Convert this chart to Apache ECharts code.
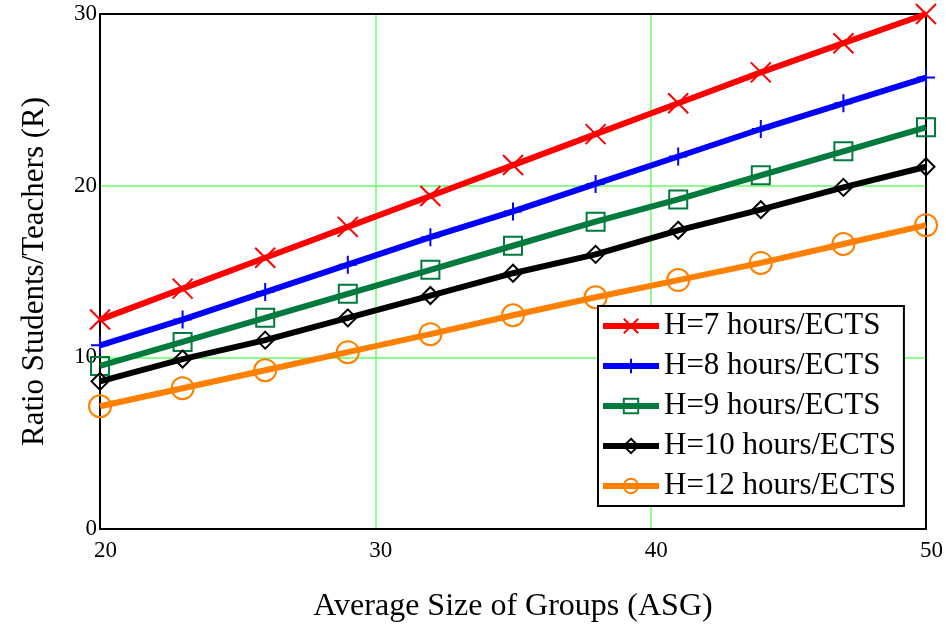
<!DOCTYPE html>
<html>
<head>
<meta charset="utf-8">
<script src="https://cdn.jsdelivr.net/npm/echarts@6/dist/echarts.min.js"></script>
<style>
  html, body { margin: 0; padding: 0; background: #fff; }
  #chart { width: 946px; height: 628px; }
</style>
</head>
<body>
<div id="chart"></div>
<script>
// group sizes where the markers sit
const asg = [20, 23, 26, 29, 32, 35, 38, 41, 44, 47, 50];

// ratio R, one list per H
const h7 = [12.2, 14.0, 15.8, 17.6, 19.4, 21.2, 23.0, 24.8, 26.6, 28.3, 30.0];
const h8 = [10.7, 12.2, 13.8, 15.4, 17.0, 18.5, 20.1, 21.7, 23.3, 24.8, 26.3];
const h9 = [9.5, 10.9, 12.3, 13.7, 15.1, 16.5, 17.9, 19.2, 20.6, 22.0, 23.4];
const h10 = [8.6, 9.9, 11.0, 12.3, 13.6, 14.9, 16.0, 17.4, 18.6, 19.9, 21.1];
const h12 = [7.15, 8.2, 9.25, 10.3, 11.35, 12.45, 13.5, 14.5, 15.5, 16.6, 17.7];

const serif = '"Liberation Serif", "DejaVu Serif", serif';

function pairs(ys) {
  return asg.map(function (x, i) { return [x, ys[i]]; });
}

function makeSeries(name, ys, color, symbol, size) {
  return {
    name: name,
    type: 'line',
    data: pairs(ys),
    symbol: symbol,
    symbolSize: size,
    showAllSymbol: true,
    lineStyle: { color: color, width: 6 },
    itemStyle: { color: 'rgba(0,0,0,0)', borderColor: color, borderWidth: 2 },
    emphasis: { disabled: true },
    z: 3
  };
}

// black frame on all four sides
const frameLine = { show: true, onZero: false, lineStyle: { color: '#000', width: 2 } };
// green grid only inside, the outer ones are the frame
const gridGreen = { show: true, lineStyle: { color: ['transparent', '#66ff66', '#66ff66', 'transparent'], width: 1.5 } };

const chart = echarts.init(document.getElementById('chart'));

chart.setOption({
  animation: false,
  backgroundColor: '#fff',
  grid: { left: 100, right: 18, top: 14, bottom: 98 },
  legend: {
    orient: 'vertical',
    left: 598,
    top: 306,
    padding: [4, 8, 4, 2],
    itemWidth: 56,
    itemHeight: 18,
    itemGap: 8,
    backgroundColor: '#fff',
    borderColor: '#000',
    borderWidth: 2,
    lineStyle: { width: 6 },
    textStyle: { fontFamily: serif, fontSize: 31, color: '#000', lineHeight: 32 }
  },
  xAxis: [{
    type: 'value',
    min: 20, max: 50, interval: 10,
    name: 'Average Size of Groups (ASG)',
    nameLocation: 'middle',
    nameGap: 62,
    nameTextStyle: { fontFamily: serif, fontSize: 32, color: '#000' },
    axisLine: frameLine,
    axisTick: { show: false },
    axisLabel: { fontFamily: serif, fontSize: 23, color: '#000', margin: 10, align: 'left', padding: [0, 0, 0, -6] },
    splitLine: gridGreen
  }, {
    type: 'value',
    position: 'top',
    min: 20, max: 50,
    z: 2,
    axisLine: frameLine,
    axisTick: { show: false },
    axisLabel: { show: false },
    splitLine: { show: false }
  }],
  yAxis: [{
    type: 'value',
    min: 0, max: 30, interval: 10,
    name: 'Ratio Students/Teachers (R)',
    nameLocation: 'middle',
    nameGap: 50,
    nameTextStyle: { fontFamily: serif, fontSize: 31, color: '#000' },
    axisLine: frameLine,
    axisTick: { show: false },
    axisLabel: { fontFamily: serif, fontSize: 23, color: '#000', margin: 3, padding: [8, 0, 0, 0] },
    splitLine: gridGreen
  }, {
    type: 'value',
    position: 'right',
    min: 0, max: 30,
    z: 2,
    axisLine: frameLine,
    axisTick: { show: false },
    axisLabel: { show: false },
    splitLine: { show: false }
  }],
  series: [
    makeSeries('H=7 hours/ECTS', h7, '#ff0000', 'path://M0,0L20,20M20,0L0,20', 20),
    makeSeries('H=8 hours/ECTS', h8, '#0000ff', 'path://M10,0L10,20M0,10L20,10', 18),
    makeSeries('H=9 hours/ECTS', h9, '#007a3d', 'rect', 18),
    makeSeries('H=10 hours/ECTS', h10, '#000000', 'path://M10,0L20,10L10,20L0,10Z', 17),
    makeSeries('H=12 hours/ECTS', h12, '#ff8000', 'circle', 22)
  ]
});
</script>
</body>
</html>
